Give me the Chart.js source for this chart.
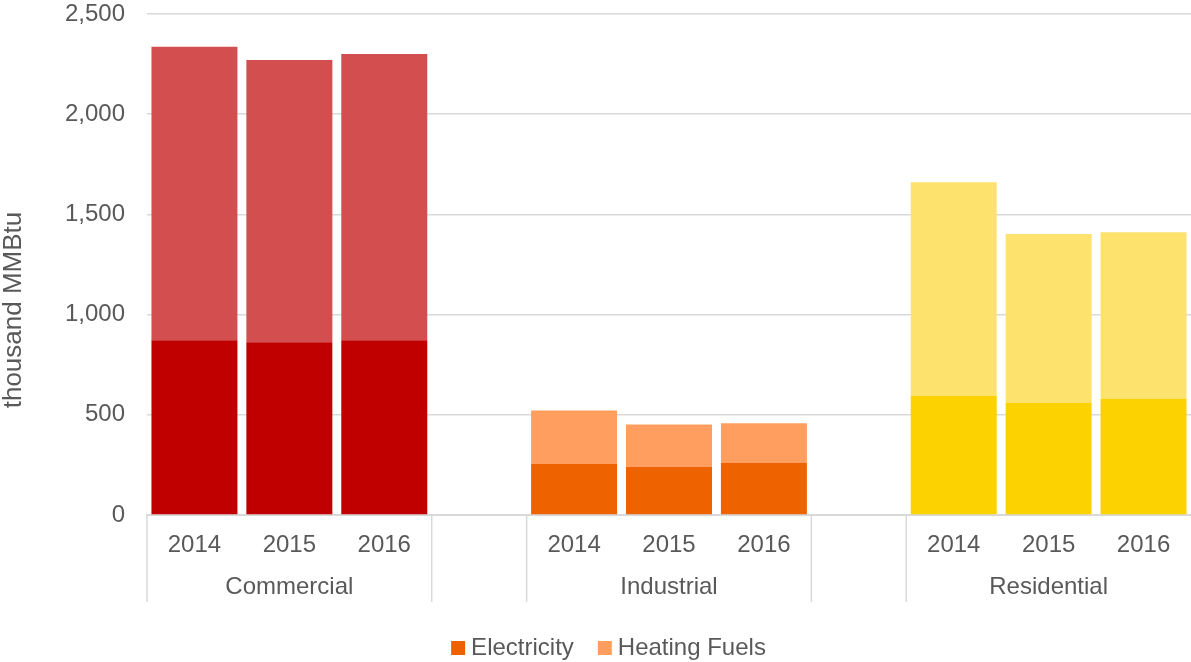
<!DOCTYPE html>
<html>
<head>
<meta charset="utf-8">
<script src="https://cdn.jsdelivr.net/npm/chart.js@4.4.1/dist/chart.umd.min.js"></script>
<style>
  html, body { margin: 0; padding: 0; background: #ffffff; }
  #wrap { width: 1191px; height: 662px; position: relative; }
</style>
</head>
<body>
<div id="wrap"><canvas id="chart" width="1191" height="662"></canvas></div>
<script>
// Energy use by sector and year (thousand MMBtu)
const years = ['2014', '2015', '2016'];
const sectors = ['Commercial', 'Industrial', 'Residential'];
const seriesNames = ['Electricity', 'Heating Fuels'];

const commercialElectricity = [872, 862, 872];
const commercialHeating = [1464, 1409, 1429];
const industrialElectricity = [255, 241, 260];
const industrialHeating = [266, 211, 198];
const residentialElectricity = [595, 560, 580];
const residentialHeating = [1066, 842, 831];

const yTicks = [0, 500, 1000, 1500, 2000, 2500];
const yTitle = 'thousand MMBtu';

const electricityColors = ['#C00000', '#EE6300', '#FCD200'];
const heatingColors = ['#D34F4F', '#FF9E5E', '#FEE26E'];
const legendColors = ['#EE6300', '#FF9E5E'];

const FONT = '"Liberation Sans", Arial, Helvetica, sans-serif';
const TEXT = '#595959';
const LINE = '#D9D9D9';

// Flatten into one category axis: three years per sector, one empty slot between sectors
const electricityBySector = [commercialElectricity, industrialElectricity, residentialElectricity];
const heatingBySector = [commercialHeating, industrialHeating, residentialHeating];
const labels = [], elec = [], heat = [], elecCol = [], heatCol = [], groupStart = [];
sectors.forEach((s, si) => {
  if (si > 0) {
    labels.push(''); elec.push(null); heat.push(null);
    elecCol.push('rgba(0,0,0,0)'); heatCol.push('rgba(0,0,0,0)');
  }
  groupStart.push(labels.length);
  years.forEach((y, yi) => {
    labels.push(y);
    elec.push(electricityBySector[si][yi]);
    heat.push(heatingBySector[si][yi]);
    elecCol.push(electricityColors[si]);
    heatCol.push(heatingColors[si]);
  });
});

// Second level of the category axis (sector names + separators) and the rotated value-axis title
const sectorAxis = {
  id: 'sectorAxis',
  afterLayout(chart) {
    const lg = chart.legend;
    if (lg) {
      const h = lg.height;
      lg.top = 606;
      lg.bottom = lg.top + h;
      lg.left += 16;
      lg.right += 16;
    }
  },
  afterDraw(chart) {
    const x = chart.scales.x;
    const ctx = chart.ctx;
    const slot = x.width / labels.length;
    const top = chart.chartArea.bottom;
    ctx.save();
    ctx.strokeStyle = LINE;
    ctx.lineWidth = 1.5;
    ctx.fillStyle = TEXT;
    ctx.font = '24px ' + FONT;
    ctx.textAlign = 'center';
    ctx.textBaseline = 'middle';
    sectors.forEach((s, si) => {
      const first = groupStart[si];
      const last = first + years.length - 1;
      const edges = [x.getPixelForValue(first) - slot / 2];
      if (si < sectors.length - 1) edges.push(x.getPixelForValue(last) + slot / 2);
      edges.forEach(px => {
        ctx.beginPath();
        ctx.moveTo(px, top);
        ctx.lineTo(px, 602);
        ctx.stroke();
      });
      ctx.fillText(s, x.getPixelForValue(first + 1), 587);
    });
    ctx.translate(14, 310);
    ctx.rotate(-Math.PI / 2);
    ctx.font = '26px ' + FONT;
    ctx.fillText(yTitle, 0, 0);
    ctx.restore();
  }
};

new Chart(document.getElementById('chart'), {
  type: 'bar',
  data: {
    labels: labels,
    datasets: [
      { label: seriesNames[0], data: elec, backgroundColor: elecCol, borderWidth: 0,
        barPercentage: 0.906, categoryPercentage: 1.0 },
      { label: seriesNames[1], data: heat, backgroundColor: heatCol, borderWidth: 0,
        barPercentage: 0.906, categoryPercentage: 1.0 }
    ]
  },
  options: {
    responsive: false,
    devicePixelRatio: 1,
    animation: false,
    layout: { padding: { top: 14, left: 0, right: 0, bottom: 0 } },
    scales: {
      x: {
        stacked: true,
        grid: { display: false, drawTicks: false },
        border: { display: true, color: LINE, width: 2 },
        ticks: { color: TEXT, font: { family: FONT, size: 24 }, padding: 16,
                 maxRotation: 0, autoSkip: false },
        afterFit(s) { s.height = 83; }
      },
      y: {
        stacked: true,
        min: 0,
        max: 2500,
        afterBuildTicks(s) { s.ticks = yTicks.map(v => ({ value: v })); },
        ticks: { color: TEXT, font: { family: FONT, size: 24 }, padding: 22,
                 callback: v => Number(v).toLocaleString('en-US') },
        grid: { color: LINE, lineWidth: 1.5, drawTicks: false },
        border: { display: false },
        afterFit(s) { s.width = 147; s.paddingTop = 0; s.paddingBottom = 0; }
      }
    },
    plugins: {
      tooltip: { enabled: false },
      legend: {
        position: 'bottom',
        labels: {
          color: TEXT,
          font: { family: FONT, size: 24 },
          usePointStyle: true,
          boxWidth: 2,
          boxHeight: 14,
          padding: 30,
          generateLabels: () => seriesNames.map((n, i) => ({
            text: n, fillStyle: legendColors[i], strokeStyle: legendColors[i],
            pointStyle: 'rect', rotation: 0,
            lineWidth: 0, hidden: false, datasetIndex: i, fontColor: TEXT
          }))
        }
      }
    }
  },
  plugins: [sectorAxis]
});
</script>
</body>
</html>
